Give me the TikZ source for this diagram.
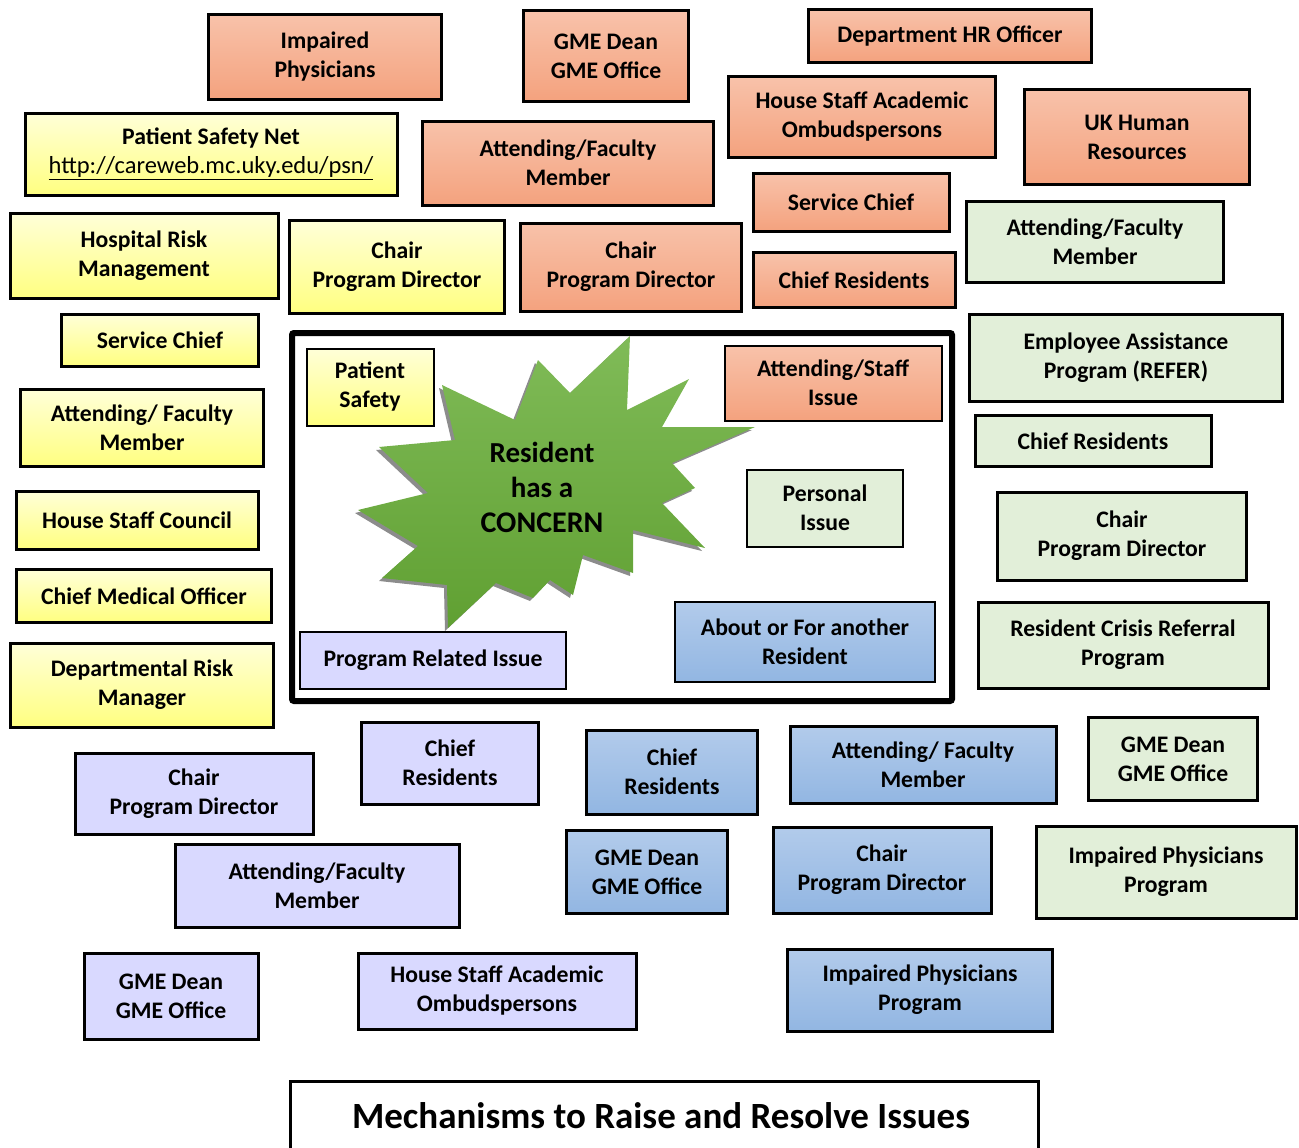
\documentclass[tikz,border=0pt]{standalone}
\usepackage{fontspec}
\setmainfont{Carlito}
\usetikzlibrary{positioning}

\definecolor{salmonTop}{RGB}{248,194,170}
\definecolor{salmonBot}{RGB}{244,162,126}
\definecolor{yellowTop}{RGB}{255,255,216}
\definecolor{yellowBot}{RGB}{255,255,128}
\definecolor{blueTop}{RGB}{178,203,235}
\definecolor{blueBot}{RGB}{146,182,226}
\definecolor{greenFill}{RGB}{226,239,217}
\definecolor{lavFill}{RGB}{217,217,255}
\definecolor{starTop}{RGB}{128,187,88}
\definecolor{starBot}{RGB}{96,160,50}

\tikzset{
    box/.style={draw=black, line width=3pt, align=center, inner sep=0pt,
        font=\bfseries\fontsize{23.7}{29}\selectfont},
    inbox/.style={box, line width=2pt},
    salmon/.style={top color=salmonTop, bottom color=salmonBot},
    yellowish/.style={top color=yellowTop, bottom color=yellowBot},
    bluish/.style={top color=blueTop, bottom color=blueBot},
    greenish/.style={fill=greenFill},
    lavender/.style={fill=lavFill},
}

\begin{document}
\begin{tikzpicture}[x=1pt, y=-1pt]
    \useasboundingbox (0,0) rectangle (1299,1148);
    % salmon boxes
    \node[box, salmon, minimum width=233pt, minimum height=85pt] (impairedS) at (325,57) {Impaired\\Physicians};
    \node[box, salmon, minimum width=165pt, minimum height=90pt] (gmeS) at (606,56) {GME Dean\\GME Office};
    \node[box, salmon, minimum width=283pt, minimum height=53pt] (hrS) at (950,36) {Department HR Officer};
    \node[box, salmon, minimum width=267pt, minimum height=80pt] (ombudsS) at (862,117) {House Staff Academic\\Ombudspersons};
    \node[box, salmon, minimum width=225pt, minimum height=95pt] (ukhrS) at (1137,137) {UK Human\\Resources};
    \node[box, salmon, minimum width=291pt, minimum height=84pt] (facultyS) at (568,163) {Attending/Faculty\\Member};
    \node[box, salmon, minimum width=196pt, minimum height=58pt] (serviceS) at (851,202) {Service Chief};
    \node[box, salmon, minimum width=221pt, minimum height=88pt] (chairS) at (631,267) {Chair\\Program Director};
    \node[box, salmon, minimum width=202pt, minimum height=55pt] (chiefS) at (854,280) {Chief Residents};
    % yellow boxes
    \node[box, yellowish, minimum width=372pt, minimum height=82pt] (psnY) at (211,154)
        {Patient Safety Net\\{\mdseries\fontsize{24.5}{29}\selectfont\underline{http://careweb.mc.uky.edu/psn/}}};
    \node[box, yellowish, minimum width=268pt, minimum height=85pt] (hospitalY) at (144,256) {Hospital Risk\\Management};
    \node[box, yellowish, minimum width=215pt, minimum height=93pt] (chairY) at (397,267) {Chair\\Program Director};
    \node[box, yellowish, minimum width=197pt, minimum height=52pt] (serviceY) at (160,340) {Service Chief};
    \node[box, yellowish, minimum width=243pt, minimum height=77pt] (facultyY) at (142,428) {Attending/ Faculty\\Member};
    \node[box, yellowish, minimum width=242pt, minimum height=58pt] (councilY) at (137,520) {House Staff Council};
    \node[box, yellowish, minimum width=255pt, minimum height=53pt] (cmoY) at (144,596) {Chief Medical Officer};
    \node[box, yellowish, minimum width=263pt, minimum height=84pt] (riskY) at (142,685) {Departmental Risk\\Manager};
    % green boxes
    \node[box, greenish, minimum width=257pt, minimum height=81pt] (facultyG) at (1095,242) {Attending/Faculty\\Member};
    \node[box, greenish, minimum width=313pt, minimum height=87pt] (eapG) at (1126,358) {Employee Assistance\\Program (REFER)};
    \node[box, greenish, minimum width=236pt, minimum height=51pt] (chiefG) at (1093,441) {Chief Residents};
    \node[box, greenish, minimum width=249pt, minimum height=88pt] (chairG) at (1122,536) {Chair\\Program Director};
    \node[box, greenish, minimum width=290pt, minimum height=86pt] (crisisG) at (1123,645) {Resident Crisis Referral\\Program};
    \node[box, greenish, minimum width=169pt, minimum height=83pt] (gmeG) at (1173,759) {GME Dean\\GME Office};
    \node[box, greenish, minimum width=260pt, minimum height=92pt] (impairedG) at (1166,872) {Impaired Physicians\\Program};
    % lavender boxes
    \node[box, lavender, minimum width=177pt, minimum height=82pt] (chiefL) at (450,763) {Chief\\Residents};
    \node[box, lavender, minimum width=238pt, minimum height=81pt] (chairL) at (194,794) {Chair\\Program Director};
    \node[box, lavender, minimum width=284pt, minimum height=83pt] (facultyL) at (317,886) {Attending/Faculty\\Member};
    \node[box, lavender, minimum width=174pt, minimum height=86pt] (gmeL) at (171,996) {GME Dean\\GME Office};
    \node[box, lavender, minimum width=278pt, minimum height=76pt] (ombudsL) at (497,991) {House Staff Academic\\Ombudspersons};
    % blue boxes
    \node[box, bluish, minimum width=171pt, minimum height=84pt] (chiefB) at (672,772) {Chief\\Residents};
    \node[box, bluish, minimum width=266pt, minimum height=77pt] (facultyB) at (923,765) {Attending/ Faculty\\Member};
    \node[box, bluish, minimum width=161pt, minimum height=83pt] (gmeB) at (647,872) {GME Dean\\GME Office};
    \node[box, bluish, minimum width=218pt, minimum height=86pt] (chairB) at (882,870) {Chair\\Program Director};
    \node[box, bluish, minimum width=265pt, minimum height=82pt] (impairedB) at (920,990) {Impaired Physicians\\Program};
    % central frame
    \draw[line width=6pt, rounded corners=2pt] (292,333) rectangle (952,701);
    \node[inbox, yellowish, minimum width=127pt, minimum height=77pt] (safetyIn) at (370,387) {Patient\\Safety};
    \node[inbox, salmon, minimum width=217pt, minimum height=75pt] (staffIn) at (833,383) {Attending/Staff\\Issue};
    \node[inbox, greenish, minimum width=156pt, minimum height=77pt] (personalIn) at (825,508) {Personal\\Issue};
    \node[inbox, lavender, minimum width=266pt, minimum height=57pt] (programIn) at (433,660) {Program Related Issue};
    \node[inbox, bluish, minimum width=260pt, minimum height=80pt] (anotherIn) at (805,642) {About or For another\\Resident};
    % star
    \fill[black!45, shift={(-3,3)}] (630,336) -- (627,410) -- (689,379) -- (662,427) -- (755,427)
        -- (672,463) -- (695,488) -- (662,503) -- (705,548) -- (633,530) -- (633,573)
        -- (583,555) -- (573,595) -- (550,580) -- (533,598) -- (496,583) -- (448,628)
        -- (447,585) -- (382,578) -- (418,546) -- (358,510) -- (428,493) -- (379,447)
        -- (455,440) -- (442,385) -- (515,420) -- (538,360) -- (570,393) -- cycle;
    \shade[top color=starTop, bottom color=starBot] (630,336) -- (627,410) -- (689,379) -- (662,427) -- (755,427)
        -- (672,463) -- (695,488) -- (662,503) -- (705,548) -- (633,530) -- (633,573)
        -- (583,555) -- (573,595) -- (550,580) -- (533,598) -- (496,583) -- (448,628)
        -- (447,585) -- (382,578) -- (418,546) -- (358,510) -- (428,493) -- (379,447)
        -- (455,440) -- (442,385) -- (515,420) -- (538,360) -- (570,393) -- cycle;
    \node[align=center, font=\bfseries\fontsize{29}{35}\selectfont] (concern) at (542,487)
        {Resident\\has a\\{\fontsize{30}{37}\selectfont CONCERN}};
    % title
    \draw[line width=3pt] (1038,1160) -- (1038,1081) -- (290,1081) -- (290,1160);
    \node[font=\bfseries\fontsize{37}{40}\selectfont] (title) at (661,1116) {Mechanisms to Raise and Resolve Issues};
\end{tikzpicture}
\end{document}
